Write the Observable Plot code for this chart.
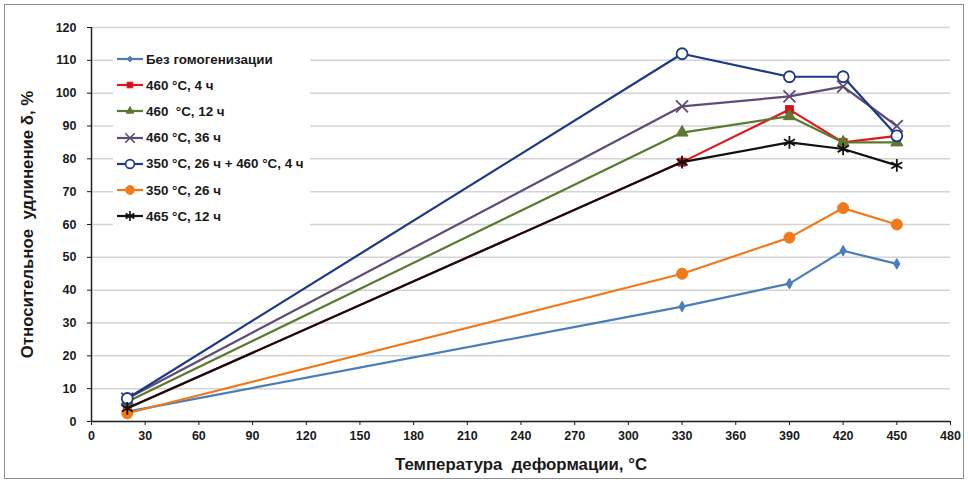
<!DOCTYPE html>
<html>
<head>
<meta charset="utf-8">
<script src="https://cdn.jsdelivr.net/npm/d3@7"></script>
<script src="https://cdn.jsdelivr.net/npm/@observablehq/plot@0.6"></script>
<style>
  html, body { margin: 0; padding: 0; background: #fff; }
  #wrap { position: relative; width: 968px; height: 483px; font-family: "Liberation Sans", Arial, sans-serif; }
  #frame { position: absolute; left: 4px; top: 4px; width: 958px; height: 473px; border: 1.5px solid #8f8f8f; pointer-events: none; }
  #legend { position: absolute; left: 113px; top: 45px; width: 197px; background: #fff; padding: 0; }
  .row { height: 26.2px; display: flex; align-items: center; font-weight: bold; font-size: 13.4px; color: #1a1a1a; white-space: pre; }
  .row svg { margin-left: 4px; margin-right: 3px; }
</style>
</head>
<body>
<div id="wrap"><div id="frame"></div><div id="legend"></div></div>
<script>
// ---- data ----
const temps = [20, 330, 390, 420, 450];
const seriesNames = [
  "Без гомогенизации",
  "460 °C, 4 ч",
  "460  °C, 12 ч",
  "460 °C, 36 ч",
  "350 °C, 26 ч + 460 °C, 4 ч",
  "350 °C, 26 ч",
  "465 °C, 12 ч"
];
const noHomog   = [3, 35, 42, 52, 48];
const h460_4    = [4, 79, 95, 85, 87];
const h460_12   = [6, 88, 93, 85, 85];
const h460_36   = [7, 96, 99, 102, 90];
const h350_460  = [7, 112, 105, 105, 87];
const h350_26   = [2.5, 45, 56, 65, 60];
const h465_12   = [4, 79, 85, 83, 78];
const xTicks = d3.range(0, 481, 30);
const yTicks = d3.range(0, 121, 10);
const xLabel = "Температура  деформации, °С";
const yLabel = "Относительное  удлинение δ, %";

// ---- styles ----
const seriesValues = [noHomog, h460_4, h460_12, h460_36, h350_460, h350_26, h465_12];
const styles = [
  {color: "#4a7ebb", symbol: "diamond", r: 3.2, fill: "#4a7ebb"},
  {color: "#e3161d", symbol: "square", r: 4.5, fill: "#d11219"},
  {color: "#5b7a2f", symbol: "triangle", r: 4.5, fill: "#5b7a2f"},
  {color: "#5e4b78", symbol: "times", r: 5.5, fill: "none"},
  {color: "#1c3a86", symbol: "circle", r: 5.5, fill: "white"},
  {color: "#f07a1a", symbol: "circle", r: 5.5, fill: "#f07a1a"},
  {color: "#111111", symbol: "asterisk", r: 6, fill: "none"}
];

const rows = [];
seriesNames.forEach((name, i) => {
  temps.forEach((t, j) => rows.push({series: name, idx: i, t, v: seriesValues[i][j]}));
});

const marks = [
  Plot.ruleY(yTicks, {stroke: "#d4d4d4", strokeWidth: 1.5}),
  Plot.axisX({ticks: xTicks, tickSize: 4, tickPadding: 6, label: null, fontSize: 12.5, fontWeight: "bold"}),
  Plot.axisY({ticks: yTicks, tickSize: 4, tickPadding: 11, label: null, fontSize: 12.5, fontWeight: "bold"}),
  Plot.ruleX([0], {stroke: "#222", strokeWidth: 1.5}),
  Plot.ruleY([0], {stroke: "#222", strokeWidth: 1.5}),
  Plot.text([xLabel], {frameAnchor: "bottom", dy: 48, fontSize: 16.8, fontWeight: "bold", fill: "#1a1a1a"}),
  Plot.text([yLabel], {frameAnchor: "left", dx: -64, rotate: -90, textAnchor: "middle", fontSize: 16.8, fontWeight: "bold", fill: "#1a1a1a"})
];
seriesNames.forEach((name, i) => {
  const s = styles[i];
  const d = rows.filter(r => r.idx === i);
  marks.push(Plot.line(d, {x: "t", y: "v", stroke: s.color, strokeWidth: 2.2}));
  const stroked = s.fill === "none" || s.fill === "white";
  marks.push(Plot.dot(d, {x: "t", y: "v", symbol: () => s.symbol, r: s.r,
    fill: s.fill, stroke: s.color, strokeWidth: stroked ? 1.8 : 1}));
});

const chart = Plot.plot({
  width: 968,
  height: 483,
  marginLeft: 91,
  marginRight: 18,
  marginTop: 27,
  marginBottom: 62,
  style: {fontFamily: '"Liberation Sans", Arial, sans-serif', color: "#1a1a1a", background: "white"},
  x: {domain: [0, 480]},
  y: {domain: [0, 120]},
  marks
});
document.getElementById("wrap").prepend(chart);

// ---- legend ----
const legend = document.getElementById("legend");
legend.style.paddingTop = "1px";
seriesNames.forEach((name, i) => {
  const s = styles[i];
  const row = document.createElement("div");
  row.className = "row";
  const svg = d3.create("svg").attr("width", 26).attr("height", 14);
  svg.append("line").attr("x1", 0).attr("x2", 26).attr("y1", 7).attr("y2", 7)
    .attr("stroke", s.color).attr("stroke-width", 2.2);
  const sym = d3.symbol(
    {diamond: d3.symbolDiamond2, square: d3.symbolSquare2, triangle: d3.symbolTriangle2,
     times: d3.symbolTimes, circle: d3.symbolCircle, asterisk: d3.symbolAsterisk}[s.symbol],
    Math.PI * (s.r * 0.8) ** 2)();
  const stroked = s.fill === "none" || s.fill === "white";
  svg.append("path").attr("d", sym).attr("transform", "translate(13,7)")
    .attr("fill", s.fill).attr("stroke", s.color).attr("stroke-width", stroked ? 1.6 : 1);
  row.appendChild(svg.node());
  const span = document.createElement("span");
  span.textContent = name;
  row.appendChild(span);
  legend.appendChild(row);
});
</script>
</body>
</html>
